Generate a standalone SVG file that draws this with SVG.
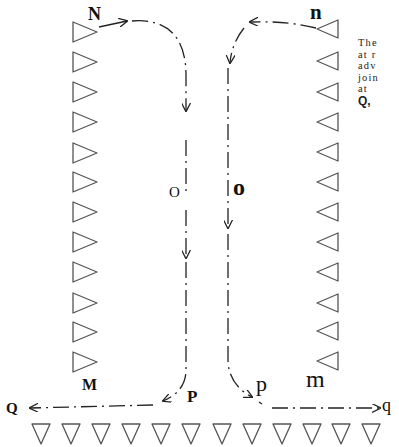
<svg xmlns="http://www.w3.org/2000/svg" xmlns:xlink="http://www.w3.org/1999/xlink" width="399" height="447" viewBox="0 0 399 447">
<style>
.tri{fill:none;stroke:#555;stroke-width:1.3;stroke-linejoin:round}
.con{fill:none;stroke:#222;stroke-width:1.3;stroke-dasharray:16 5 2 5}
.solid{fill:none;stroke:#222;stroke-width:1.3}
.lbl{font-family:"Liberation Serif",serif;fill:#111}
.note{font-family:"Liberation Serif",serif;font-size:10.4px;letter-spacing:1.2px;fill:#222}
</style>
<defs>
<marker id="ah" viewBox="0 0 10 10" refX="9" refY="5" markerWidth="9" markerHeight="9" markerUnits="userSpaceOnUse" orient="auto">
<path d="M0,0 L10,5 L0,10" fill="none" stroke="#222" stroke-width="1.4"/>
</marker>
<polygon id="tl" class="tri" points="-12,-10 12,0 -12,10"/>
<polygon id="tr" class="tri" points="10,-9 -11,0 10,9"/>
<polygon id="td" class="tri" points="0,0 18,0 9,20"/>
</defs>
<g id="left-column">
<use xlink:href="#tl" x="85" y="32"/><use xlink:href="#tl" x="85" y="62"/><use xlink:href="#tl" x="85" y="92"/><use xlink:href="#tl" x="85" y="122"/><use xlink:href="#tl" x="85" y="153"/><use xlink:href="#tl" x="85" y="182"/><use xlink:href="#tl" x="85" y="212"/><use xlink:href="#tl" x="85" y="242"/><use xlink:href="#tl" x="85" y="272"/><use xlink:href="#tl" x="85" y="303"/><use xlink:href="#tl" x="85" y="332"/><use xlink:href="#tl" x="85" y="362"/>
</g>
<g id="right-column">
<use xlink:href="#tr" x="328" y="29"/><use xlink:href="#tr" x="328" y="61"/><use xlink:href="#tr" x="328" y="92"/><use xlink:href="#tr" x="328" y="122"/><use xlink:href="#tr" x="328" y="152"/><use xlink:href="#tr" x="328" y="182"/><use xlink:href="#tr" x="328" y="212"/><use xlink:href="#tr" x="328" y="242"/><use xlink:href="#tr" x="328" y="272"/><use xlink:href="#tr" x="328" y="303"/><use xlink:href="#tr" x="328" y="331"/><use xlink:href="#tr" x="328" y="361"/>
</g>
<g id="bottom-row">
<use xlink:href="#td" x="32" y="424"/><use xlink:href="#td" x="62" y="424"/><use xlink:href="#td" x="92" y="424"/><use xlink:href="#td" x="122" y="424"/><use xlink:href="#td" x="152" y="424"/><use xlink:href="#td" x="182" y="424"/><use xlink:href="#td" x="213" y="424"/><use xlink:href="#td" x="243" y="424"/><use xlink:href="#td" x="273" y="424"/><use xlink:href="#td" x="303" y="424"/><use xlink:href="#td" x="332" y="424"/><use xlink:href="#td" x="362" y="424"/>
</g>
<g id="connectors">
<path class="solid" d="M99,27 L127,21" marker-end="url(#ah)"/>
<path class="con" d="M132,21 C168,18 186,38 186,75 L186,111" marker-end="url(#ah)"/>
<path class="con" d="M186,140 L186,196 M186,210 L186,258" marker-end="url(#ah)"/>
<path class="con" d="M186,262 L186,370 C186,384 178,395 163,401" marker-end="url(#ah)"/>
<path class="con" d="M153,405 L30,408" marker-end="url(#ah)"/>
<path class="con" d="M316,28 C300,24 280,21 250,22" marker-end="url(#ah)"/>
<path class="con" d="M244,28 C236,38 231,50 230,63" marker-end="url(#ah)"/>
<path class="con" d="M228,68 L228,228" marker-end="url(#ah)"/>
<path class="con" d="M228,234 L228,362 C229,378 238,390 252,397" marker-end="url(#ah)"/>
<path class="con" d="M259,402 L262,404 M272,408 L380,408" marker-end="url(#ah)"/>
</g>
<g id="labels">
<text class="lbl" x="88" y="20" font-size="18" font-weight="bold">N</text>
<text class="lbl" x="310" y="19" font-size="21" font-weight="bold">n</text>
<text class="lbl" x="169" y="197" font-size="15">O</text>
<text class="lbl" x="233" y="195" font-size="24" font-weight="bold">o</text>
<text class="lbl" x="82" y="390" font-size="16" font-weight="bold">M</text>
<text class="lbl" x="187" y="402" font-size="17" font-weight="bold">P</text>
<text class="lbl" x="256" y="391" font-size="22">p</text>
<text class="lbl" x="306" y="387" font-size="24">m</text>
<text class="lbl" x="6" y="413" font-size="15" font-weight="bold">Q</text>
<text class="lbl" x="382" y="411" font-size="18">q</text>
</g>
<g id="note">
<text class="note" x="358" y="46">The</text>
<text class="note" x="358" y="57.6">at r</text>
<text class="note" x="358" y="69.2">adv</text>
<text class="note" x="358" y="80.8">join</text>
<text class="note" x="358" y="92.4">at</text>
<text x="358" y="105" font-family="Liberation Sans, sans-serif" font-size="12" font-weight="bold" fill="#222">Q,</text>
</g>
</svg>
